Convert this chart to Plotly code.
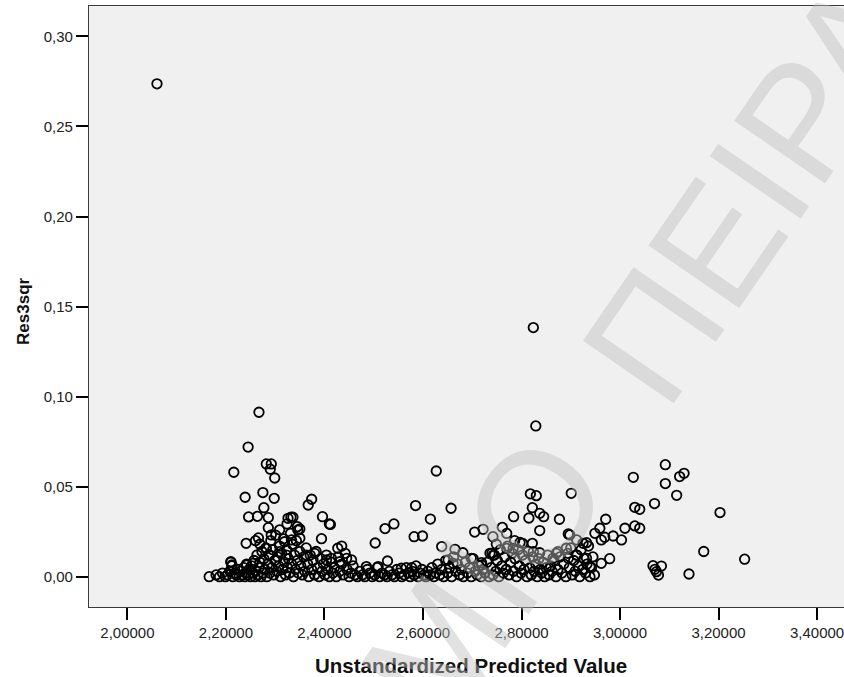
import plotly.graph_objects as go

# ---- data ----
band_pred = [2.166, 2.180, 2.187, 2.193, 2.199, 2.203, 2.208, 2.210, 2.212, 2.214, 2.218, 2.221, 2.224, 2.227, 2.230,
             2.233, 2.236, 2.238, 2.240, 2.242, 2.245, 2.247, 2.250, 2.252, 2.255, 2.257, 2.259, 2.261, 2.263, 2.265,
             2.267, 2.269, 2.271, 2.273, 2.275, 2.277, 2.279, 2.281, 2.283, 2.285, 2.287, 2.289, 2.291, 2.293, 2.295,
             2.297, 2.299, 2.301, 2.303, 2.305, 2.307, 2.309, 2.311, 2.313, 2.315, 2.317, 2.319, 2.321, 2.323, 2.325,
             2.327, 2.329, 2.331, 2.333, 2.335, 2.337, 2.339, 2.341, 2.343, 2.345, 2.347, 2.350, 2.352, 2.355, 2.358,
             2.360, 2.363, 2.366, 2.368, 2.371, 2.374, 2.377, 2.380, 2.383, 2.386, 2.389, 2.392, 2.395, 2.398, 2.401,
             2.404, 2.407, 2.410, 2.414, 2.417, 2.420, 2.424, 2.428, 2.431, 2.435, 2.438, 2.442, 2.446, 2.450, 2.454,
             2.458, 2.462, 2.467, 2.472, 2.477, 2.482, 2.487, 2.492, 2.497, 2.502, 2.507, 2.512, 2.517, 2.522, 2.527,
             2.532, 2.537, 2.542, 2.547, 2.552, 2.557, 2.562, 2.566, 2.570, 2.574, 2.578, 2.582, 2.586, 2.590, 2.594,
             2.598, 2.602, 2.606, 2.610, 2.614, 2.618, 2.622, 2.626, 2.630, 2.634, 2.638, 2.642, 2.646, 2.650, 2.654,
             2.658, 2.662, 2.666, 2.670, 2.674, 2.678, 2.682, 2.686, 2.690, 2.694, 2.698, 2.702, 2.706, 2.710, 2.714,
             2.718, 2.722, 2.726, 2.730, 2.734, 2.738, 2.742, 2.745, 2.748, 2.751, 2.754, 2.757, 2.760, 2.763, 2.766,
             2.769, 2.772, 2.775, 2.778, 2.781, 2.784, 2.787, 2.790, 2.793, 2.796, 2.799, 2.802, 2.805, 2.808, 2.811,
             2.814, 2.817, 2.820, 2.823, 2.826, 2.829, 2.832, 2.835, 2.838, 2.841, 2.844, 2.847, 2.850, 2.853, 2.856,
             2.859, 2.862, 2.866, 2.870, 2.874, 2.878, 2.882, 2.886, 2.890, 2.894, 2.897, 2.900, 2.903, 2.906, 2.909,
             2.912, 2.915, 2.918, 2.921, 2.924, 2.927, 2.930, 2.933, 2.936, 2.939, 2.942, 2.945, 2.948]
band_res = [0.000, 0.001, 0.000, 0.002, 0.000, 0.001, 0.003, 0.008, 0.006, 0.000, 0.002, 0.001, 0.004, 0.000, 0.003,
            0.001, 0.005, 0.000, 0.002, 0.007, 0.001, 0.004, 0.000, 0.006, 0.002, 0.009, 0.000, 0.003, 0.012, 0.001,
            0.005, 0.008, 0.000, 0.014, 0.002, 0.010, 0.004, 0.016, 0.000, 0.007, 0.012, 0.002, 0.020, 0.005, 0.015,
            0.001, 0.009, 0.023, 0.003, 0.011, 0.006, 0.017, 0.000, 0.013, 0.004, 0.021, 0.008, 0.001, 0.015, 0.005,
            0.010, 0.002, 0.024, 0.007, 0.018, 0.000, 0.012, 0.004, 0.020, 0.009, 0.002, 0.014, 0.006, 0.001, 0.011,
            0.003, 0.016, 0.007, 0.000, 0.012, 0.004, 0.009, 0.001, 0.014, 0.005, 0.000, 0.010, 0.003, 0.007, 0.001,
            0.012, 0.004, 0.000, 0.008, 0.002, 0.005, 0.000, 0.011, 0.003, 0.007, 0.001, 0.013, 0.004, 0.000, 0.002,
            0.006, 0.001, 0.000, 0.003, 0.001, 0.000, 0.004, 0.002, 0.000, 0.001, 0.005, 0.000, 0.002, 0.001, 0.000,
            0.003, 0.001, 0.000, 0.004, 0.002, 0.000, 0.001, 0.005, 0.002, 0.000, 0.003, 0.001, 0.006, 0.000, 0.002,
            0.004, 0.001, 0.000, 0.003, 0.001, 0.005, 0.000, 0.002, 0.007, 0.001, 0.004, 0.000, 0.009, 0.002, 0.005,
            0.000, 0.011, 0.003, 0.007, 0.001, 0.004, 0.000, 0.008, 0.002, 0.005, 0.000, 0.010, 0.003, 0.001, 0.006,
            0.000, 0.004, 0.002, 0.008, 0.000, 0.005, 0.001, 0.012, 0.003, 0.009, 0.000, 0.015, 0.006, 0.002, 0.011,
            0.004, 0.017, 0.001, 0.008, 0.013, 0.003, 0.010, 0.000, 0.015, 0.006, 0.002, 0.012, 0.004, 0.009, 0.000,
            0.014, 0.005, 0.001, 0.011, 0.003, 0.007, 0.000, 0.010, 0.004, 0.002, 0.008, 0.000, 0.005, 0.012, 0.001,
            0.006, 0.003, 0.009, 0.000, 0.004, 0.011, 0.002, 0.007, 0.000, 0.013, 0.005, 0.016, 0.001, 0.009, 0.003,
            0.012, 0.006, 0.000, 0.015, 0.004, 0.010, 0.002, 0.007, 0.017, 0.000, 0.005, 0.011, 0.001]

upper_pred = [2.060, 2.824, 2.829, 2.267, 2.245, 2.216, 2.282, 2.292, 2.290, 2.299, 2.239, 2.275, 2.298, 2.277, 2.246,
              2.264, 2.286, 2.286, 2.241, 2.269, 2.332, 2.336, 2.324, 2.345, 2.309, 2.350, 2.367, 2.374, 2.396, 2.410,
              2.412, 2.394, 2.427, 2.435, 2.503, 2.528, 2.523, 2.541, 2.585, 2.627, 2.657, 2.615, 2.582, 2.599, 2.638,
              2.665, 2.681, 2.705, 2.722, 2.742, 2.749, 3.027, 2.818, 2.830, 2.901, 2.822, 2.837, 2.845, 2.784, 2.815,
              2.877, 2.837, 2.895, 2.761, 2.770, 2.786, 2.797, 2.802, 2.822, 2.837, 2.874, 2.912, 2.932, 2.949, 2.959,
              2.971, 2.962, 2.969, 2.986, 3.003, 3.010, 3.030, 3.040, 3.030, 3.040, 2.962, 2.979, 2.719, 2.740, 3.170,
              3.253, 3.140, 3.067, 3.071, 3.074, 3.078, 3.084, 3.092, 3.092, 3.121, 3.130, 3.115, 3.070, 3.203, 2.770,
              2.783, 2.824, 2.891, 2.898, 2.925, 2.895, 2.912, 2.932, 2.939, 2.864, 2.871, 2.282, 2.292, 2.326, 2.346,
              2.319, 2.333, 2.350, 2.289, 2.309, 2.323, 2.363, 2.380, 2.404, 2.414, 2.431, 2.445, 2.455, 2.485, 2.509,
              2.556, 2.577, 2.698, 2.651, 2.661, 2.736, 2.743, 2.719, 2.242, 2.255, 2.210, 2.212, 2.260, 2.266]
upper_res = [0.2737, 0.1383, 0.0837, 0.0913, 0.0720, 0.0580, 0.0626, 0.0626, 0.0597, 0.0548, 0.0441, 0.0467, 0.0435,
             0.0383, 0.0332, 0.0335, 0.0328, 0.0272, 0.0185, 0.0180, 0.0330, 0.0330, 0.0293, 0.0278, 0.0260, 0.0265,
             0.0398, 0.0430, 0.0333, 0.0293, 0.0290, 0.0211, 0.0158, 0.0170, 0.0187, 0.0087, 0.0267, 0.0293, 0.0395,
             0.0587, 0.0380, 0.0320, 0.0222, 0.0226, 0.0167, 0.0152, 0.0133, 0.0248, 0.0263, 0.0222, 0.0180, 0.0552,
             0.0460, 0.0450, 0.0463, 0.0383, 0.0352, 0.0333, 0.0333, 0.0326, 0.0319, 0.0256, 0.0237, 0.0274, 0.0240,
             0.0200, 0.0190, 0.0185, 0.0185, 0.0133, 0.0139, 0.0204, 0.0189, 0.0241, 0.0269, 0.0319, 0.0204, 0.0219,
             0.0226, 0.0204, 0.0269, 0.0385, 0.0374, 0.0282, 0.0269, 0.0074, 0.0100, 0.0078, 0.0130, 0.0140, 0.0097,
             0.0015, 0.0061, 0.0041, 0.0028, 0.0009, 0.0059, 0.0622, 0.0517, 0.0556, 0.0574, 0.0452, 0.0406, 0.0356,
             0.0157, 0.0157, 0.0139, 0.0158, 0.0232, 0.0185, 0.0102, 0.0120, 0.0102, 0.0056, 0.0102, 0.0130, 0.0157,
             0.0232, 0.0324, 0.0259, 0.0194, 0.0204, 0.0213, 0.0120, 0.0139, 0.0120, 0.0120, 0.0130, 0.0093, 0.0102,
             0.0083, 0.0102, 0.0093, 0.0056, 0.0056, 0.0047, 0.0050, 0.0102, 0.0093, 0.0074, 0.0130, 0.0120, 0.0065,
             0.0065, 0.0074, 0.0083, 0.0065, 0.0200, 0.0215]

x_tickvals = [2.0, 2.2, 2.4, 2.6, 2.8, 3.0, 3.2, 3.4]
x_ticktext = ["2,00000", "2,20000", "2,40000", "2,60000", "2,80000", "3,00000", "3,20000", "3,40000"]
y_tickvals = [0.0, 0.05, 0.10, 0.15, 0.20, 0.25, 0.30]
y_ticktext = ["0,00", "0,05", "0,10", "0,15", "0,20", "0,25", "0,30"]

x_title = "Unstandardized Predicted Value"
y_title = "Res3sqr"
watermark = "ΠΑΝΕΠΙΣΤΗΜΙΟ\u00a0\u00a0ΠΕΙΡΑΙΩΣ"

FONT = "Liberation Sans, Arial, sans-serif"

fig = go.Figure()
fig.add_trace(go.Scatter(
    x=band_pred + upper_pred,
    y=band_res + upper_res,
    mode="markers",
    marker=dict(symbol="circle-open", size=9.5, color="black", line=dict(width=1.8, color="black")),
    hoverinfo="skip",
    showlegend=False,
))

axis_common = dict(
    showgrid=False, zeroline=False, showline=True, linecolor="#3a3a3a", linewidth=1.3,
    ticks="outside", ticklen=12, tickwidth=2, tickcolor="black",
    tickfont=dict(family=FONT, size=15, color="#222222"),
    ticklabeloverflow="allow",
)

fig.update_xaxes(range=[1.9220, 3.4547], tickvals=x_tickvals, ticktext=x_ticktext, mirror=True, **axis_common)
fig.update_yaxes(range=[-0.01683, 0.31689], tickvals=y_tickvals, ticktext=y_ticktext, mirror=False, **axis_common)

fig.add_annotation(text=x_title, xref="paper", yref="paper", x=0.5053, y=-0.0973,
                   xanchor="center", yanchor="middle", showarrow=False,
                   font=dict(family=FONT, size=20.5, color="#111111", weight="bold"))
fig.add_annotation(text=y_title, xref="paper", yref="paper", x=-0.0868, y=0.4917, textangle=-90,
                   xanchor="center", yanchor="middle", showarrow=False,
                   font=dict(family=FONT, size=17, color="#111111", weight="bold"))
fig.add_annotation(text=watermark, xref="paper", yref="paper", x=0.4887, y=-0.0216, textangle=-55.5,
                   xanchor="center", yanchor="middle", showarrow=False,
                   font=dict(family=FONT, size=160, color="rgba(190,190,190,0.45)"))

fig.update_layout(
    width=844, height=677, autosize=False,
    margin=dict(l=89, r=0, t=6, b=70),
    plot_bgcolor="#F0F0F0", paper_bgcolor="white",
    font=dict(family=FONT),
)

fig.write_html("out.html")
